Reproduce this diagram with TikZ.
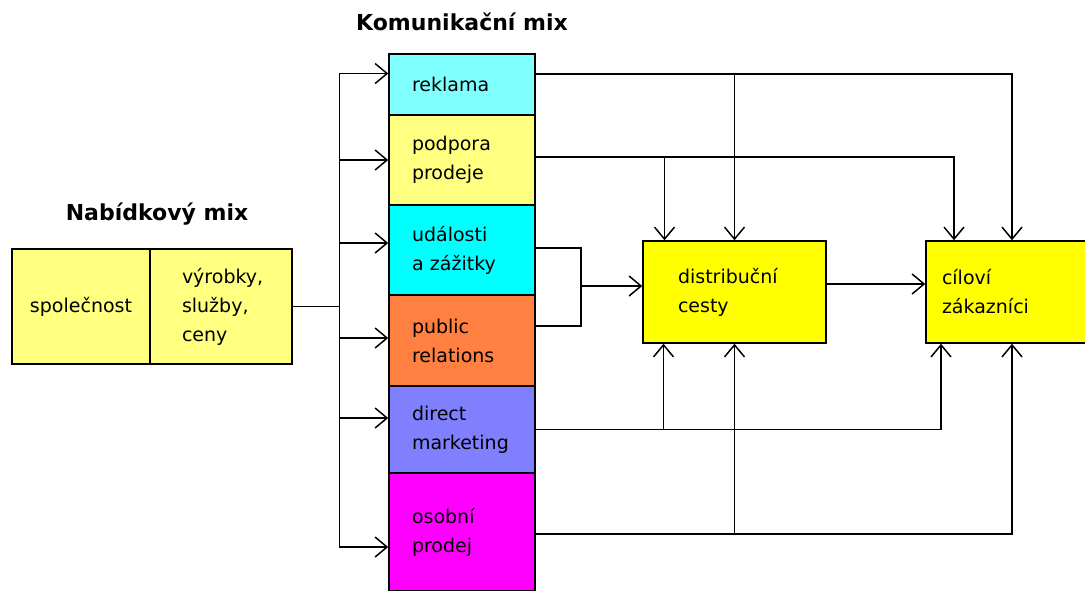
\documentclass[tikz,border=0pt]{standalone}
\usepackage{fontspec}
\setmainfont{DejaVu Sans}
\usetikzlibrary{arrows.meta, positioning}

\definecolor{paleyellow}{HTML}{FFFF80}
\definecolor{palecyan}{HTML}{80FFFF}
\definecolor{brightcyan}{HTML}{00FFFF}
\definecolor{prorange}{HTML}{FF8040}
\definecolor{dmblue}{HTML}{8080FF}
\definecolor{opmagenta}{HTML}{FF00FF}
\definecolor{boxyellow}{HTML}{FFFF00}

\begin{document}
\begin{tikzpicture}[x=1pt, y=-1pt]
    % Setup the styles for the boxes
    \tikzset{mix box/.style={draw,
                             line width=1.5pt,
                             inner ysep=2pt,
                             align=left,
                             font=\fontsize{19}{29}\selectfont},
             stack box/.style={mix box,
                               text width=100pt,
                               inner xsep=23pt},
             title/.style={font=\fontsize{22}{25}\selectfont\bfseries},
             link/.style={line width=1.5pt},
             >={Straight Barb[length=12pt, width=20pt]}}

    \useasboundingbox (0, 0) rectangle (1085, 590);

    % Draw the titles
    \node[title] at (157, 214) (nabtitle) {Nabídkový mix};
    \node[title] at (462, 22)  (komtitle) {Komunikační mix};

    % Draw the offer mix
    \node[mix box, fill=paleyellow, minimum width=138pt, minimum height=115pt,
          inner xsep=0pt, align=center]
        at (81, 306.5)  (spol)    {společnost};
    \node[mix box, fill=paleyellow, minimum height=115pt,
          text width=78pt, inner xsep=32pt]
        at (221, 306.5) (vyrobky) {výrobky,\\ služby,\\ ceny};

    % Draw the communication mix
    \node[stack box, fill=palecyan,   minimum height=61pt]  at (462, 84.5)  (reklama)  {reklama};
    \node[stack box, fill=paleyellow, minimum height=90pt]  at (462, 160)   (podpora)  {podpora\\ prodeje};
    \node[stack box, fill=brightcyan, minimum height=90pt]  at (462, 250)   (udalosti) {události\\ a zážitky};
    \node[stack box, fill=prorange,   minimum height=91pt]  at (462, 340.5) (public)   {public\\ relations};
    \node[stack box, fill=dmblue,     minimum height=87pt]  at (462, 429.5) (direct)   {direct\\ marketing};
    \node[stack box, fill=opmagenta,  minimum height=118pt] at (462, 532)   (osobni)   {osobní\\ prodej};

    % Draw the channels and customers
    \node[mix box, fill=boxyellow, minimum height=102pt, text width=113pt, inner xsep=35pt]
        at (734.5, 292) (dist) {distribuční\\ cesty};
    \node[mix box, fill=boxyellow, minimum height=102pt, text width=140pt, inner xsep=16pt]
        at (1012, 292)  (cil)  {cíloví\\ zákazníci};

    % Points where the lines leave and enter the boxes
    \coordinate (rekOut) at ([yshift=10.5pt]reklama.east);
    \coordinate (podOut) at ([yshift=3pt]podpora.east);
    \coordinate (udOut)  at ([yshift=2pt]udalosti.east);
    \coordinate (prOut)  at ([yshift=14.5pt]public.east);
    \coordinate (dmOut)  at (direct.east);
    \coordinate (opOut)  at ([yshift=-2pt]osobni.east);
    \coordinate (distTL) at ([xshift=-70pt]dist.north);
    \coordinate (distBL) at ([xshift=-71pt]dist.south);
    \coordinate (distIn) at ([yshift=6pt]dist.west);
    \coordinate (distOut) at ([yshift=8pt]dist.east);
    \coordinate (cilTL)  at ([xshift=-58pt]cil.north);
    \coordinate (cilBL)  at ([xshift=-71pt]cil.south);

    % Connect the offer mix with the communication mix
    \draw[->, link] ([yshift=11pt]reklama.west) ++(-49, 0) coordinate (trunk)
        |- ([yshift=-15pt]osobni.west);
    \draw[link] (vyrobky.east) -- (vyrobky.east -| trunk);
    \foreach \name/\dy in {reklama/11, podpora/0, udalosti/7, public/2.5, direct/11.5} {
        \coordinate (boxIn) at ([yshift=\dy pt]\name.west);
        \draw[->, link] (trunk |- boxIn) -- (boxIn);
    }

    % Connect the communication mix with the channels and customers
    \draw[->, link] (rekOut) -| (cil.north);
    \draw[->, link] (dist.north |- rekOut) -- (dist.north);
    \draw[->, link] (podOut) -| (cilTL);
    \draw[->, link] (distTL |- podOut) -- (distTL);
    \draw[link] (udOut) -- ++(45, 0) coordinate (merge) |- (prOut);
    \draw[->, link] (merge |- distIn) -- (distIn);
    \draw[->, link] (distOut) -- (cil.west |- distOut);
    \draw[->, link] (dmOut) -| (cilBL);
    \draw[->, link] (distBL |- dmOut) -- (distBL);
    \draw[->, link] (opOut) -| (cil.south);
    \draw[->, link] (dist.south |- opOut) -- (dist.south);
\end{tikzpicture}
\end{document}
